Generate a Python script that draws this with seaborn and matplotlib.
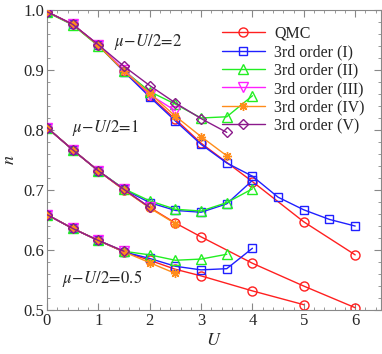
import numpy as np
import pandas as pd
import matplotlib
matplotlib.use("Agg")
import matplotlib.pyplot as plt
from matplotlib.ticker import MultipleLocator
import seaborn as sns

# ---- data ----
# mu - U/2 = 2
u_qmc_2 = [0, 0.5, 1, 1.5, 2, 2.5, 3, 4, 5, 6]
n_qmc_2 = [0.997, 0.976, 0.941, 0.898, 0.857, 0.818, 0.778, 0.714, 0.647, 0.592]
u_I_2 = [0, 0.5, 1, 1.5, 2, 2.5, 3, 3.5, 4, 4.5, 5, 5.5, 6]
n_I_2 = [0.997, 0.976, 0.941, 0.897, 0.855, 0.815, 0.776, 0.745, 0.723, 0.688, 0.667, 0.651, 0.640]
u_II_2 = [0, 0.5, 1, 1.5, 2, 2.5, 3, 3.5, 4]
n_II_2 = [0.996, 0.975, 0.940, 0.899, 0.864, 0.843, 0.820, 0.822, 0.857]
u_III_2 = [0, 0.5, 1, 1.5, 2, 2.5]
n_III_2 = [0.997, 0.976, 0.942, 0.900, 0.859, 0.832]
u_IV_2 = [0, 0.5, 1, 1.5, 2, 2.5, 3, 3.5]
n_IV_2 = [0.997, 0.976, 0.941, 0.898, 0.861, 0.823, 0.789, 0.757]
u_V_2 = [0, 0.5, 1, 1.5, 2, 2.5, 3, 3.5]
n_V_2 = [0.997, 0.976, 0.942, 0.906, 0.874, 0.845, 0.819, 0.796]

# mu - U/2 = 1
u_qmc_1 = [0, 0.5, 1, 1.5, 2, 2.5, 3, 4, 5, 6]
n_qmc_1 = [0.804, 0.767, 0.732, 0.700, 0.671, 0.645, 0.622, 0.578, 0.540, 0.504]
u_I_1 = [0, 0.5, 1, 1.5, 2, 2.5, 3, 3.5, 4]
n_I_1 = [0.804, 0.767, 0.732, 0.701, 0.679, 0.666, 0.663, 0.677, 0.716]
u_II_1 = [0, 0.5, 1, 1.5, 2, 2.5, 3, 3.5, 4]
n_II_1 = [0.804, 0.767, 0.732, 0.702, 0.682, 0.668, 0.665, 0.679, 0.702]
u_III_1 = [0, 0.5, 1, 1.5, 2]
n_III_1 = [0.804, 0.767, 0.732, 0.701, 0.671]
u_IV_1 = [0, 0.5, 1, 1.5, 2, 2.5]
n_IV_1 = [0.804, 0.767, 0.732, 0.700, 0.670, 0.644]
u_V_1 = [0, 0.5, 1, 1.5, 2]
n_V_1 = [0.804, 0.767, 0.732, 0.701, 0.671]

# mu - U/2 = 0.5
u_qmc_05 = [0, 0.5, 1, 1.5, 2, 2.5, 3, 4, 5]
n_qmc_05 = [0.659, 0.636, 0.616, 0.597, 0.583, 0.568, 0.557, 0.532, 0.509]
u_I_05 = [0, 0.5, 1, 1.5, 2, 2.5, 3, 3.5, 4]
n_I_05 = [0.659, 0.636, 0.616, 0.597, 0.586, 0.573, 0.567, 0.569, 0.603]
u_II_05 = [0, 0.5, 1, 1.5, 2, 2.5, 3, 3.5]
n_II_05 = [0.659, 0.636, 0.616, 0.598, 0.592, 0.583, 0.585, 0.593]
u_III_05 = [0, 0.5, 1, 1.5]
n_III_05 = [0.659, 0.636, 0.616, 0.598]
u_IV_05 = [0, 0.5, 1, 1.5, 2, 2.5]
n_IV_05 = [0.659, 0.636, 0.616, 0.597, 0.579, 0.561]
u_V_05 = [0, 0.5, 1, 1.5]
n_V_05 = [0.659, 0.636, 0.616, 0.598]

labels = ['QMC', '3rd order (I)', '3rd order (II)', '3rd order (III)',
          '3rd order (IV)', '3rd order (V)']
colors = ['#ff2020', '#2020ff', '#22ee22', '#ff20ff', '#ff8c1a', '#8b1a8b']
markers = ['o', 's', '^', 'v', (8, 2, 0), 'D']
msizes = [6.5, 5.5, 6.5, 6.5, 6.5, 4.8]

groups = [
    [(u_qmc_2, n_qmc_2), (u_I_2, n_I_2), (u_II_2, n_II_2), (u_III_2, n_III_2), (u_IV_2, n_IV_2), (u_V_2, n_V_2)],
    [(u_qmc_1, n_qmc_1), (u_I_1, n_I_1), (u_II_1, n_II_1), (u_III_1, n_III_1), (u_IV_1, n_IV_1), (u_V_1, n_V_1)],
    [(u_qmc_05, n_qmc_05), (u_I_05, n_I_05), (u_II_05, n_II_05), (u_III_05, n_III_05), (u_IV_05, n_IV_05), (u_V_05, n_V_05)],
]

sns.set_style("ticks")
plt.rcParams['font.family'] = ['Liberation Serif', 'DejaVu Serif']
plt.rcParams['mathtext.fontset'] = 'stix'

fig = plt.figure(figsize=(3.82, 3.54), dpi=100)
ax = fig.add_axes([0.123, 0.124, 0.874, 0.848])

for gi, grp in enumerate(groups):
    for k, (u, n) in enumerate(grp):
        df = pd.DataFrame({'U': u, 'n': n})
        mfc = colors[k] if k == 4 else 'none'
        sns.lineplot(data=df, x='U', y='n', ax=ax, color=colors[k], lw=1.0,
                     marker=markers[k], markersize=msizes[k],
                     markerfacecolor=mfc, markeredgecolor=colors[k],
                     markeredgewidth=1.0, label=labels[k] if gi == 0 else None,
                     zorder=2 + k)

ax.set_xlim(0, 6.5)
ax.set_ylim(0.5, 1.0)
ax.xaxis.set_major_locator(MultipleLocator(1))
ax.xaxis.set_minor_locator(MultipleLocator(0.2))
ax.yaxis.set_major_locator(MultipleLocator(0.1))
ax.yaxis.set_minor_locator(MultipleLocator(0.02))
ax.tick_params(which='both', direction='in', top=True, right=True,
               color='#888888', labelsize=12, pad=2)
ax.tick_params(which='major', length=5, width=0.8)
ax.tick_params(which='minor', length=2.5, width=0.6)
for s in ax.spines.values():
    s.set_color('#888888')
    s.set_linewidth(0.8)

ax.set_xlabel('$U$', fontsize=13, labelpad=2)
ax.set_ylabel('$n$', fontsize=13, labelpad=4)

ax.text(1.97, 0.947, r'$\mu\!-\!U/2\!=\!2$', fontsize=12, ha='center', va='center')
ax.text(1.14, 0.803, r'$\mu\!-\!U/2\!=\!1$', fontsize=12, ha='center', va='center')
ax.text(1.07, 0.552, r'$\mu\!-\!U/2\!=\!0.5$', fontsize=12, ha='center', va='center')

leg = ax.legend(loc='upper right', frameon=False, fontsize=11.5, handlelength=2.7,
                labelspacing=0.15, borderaxespad=0.6, handletextpad=0.6)

fig.savefig('out.png', dpi=100)
